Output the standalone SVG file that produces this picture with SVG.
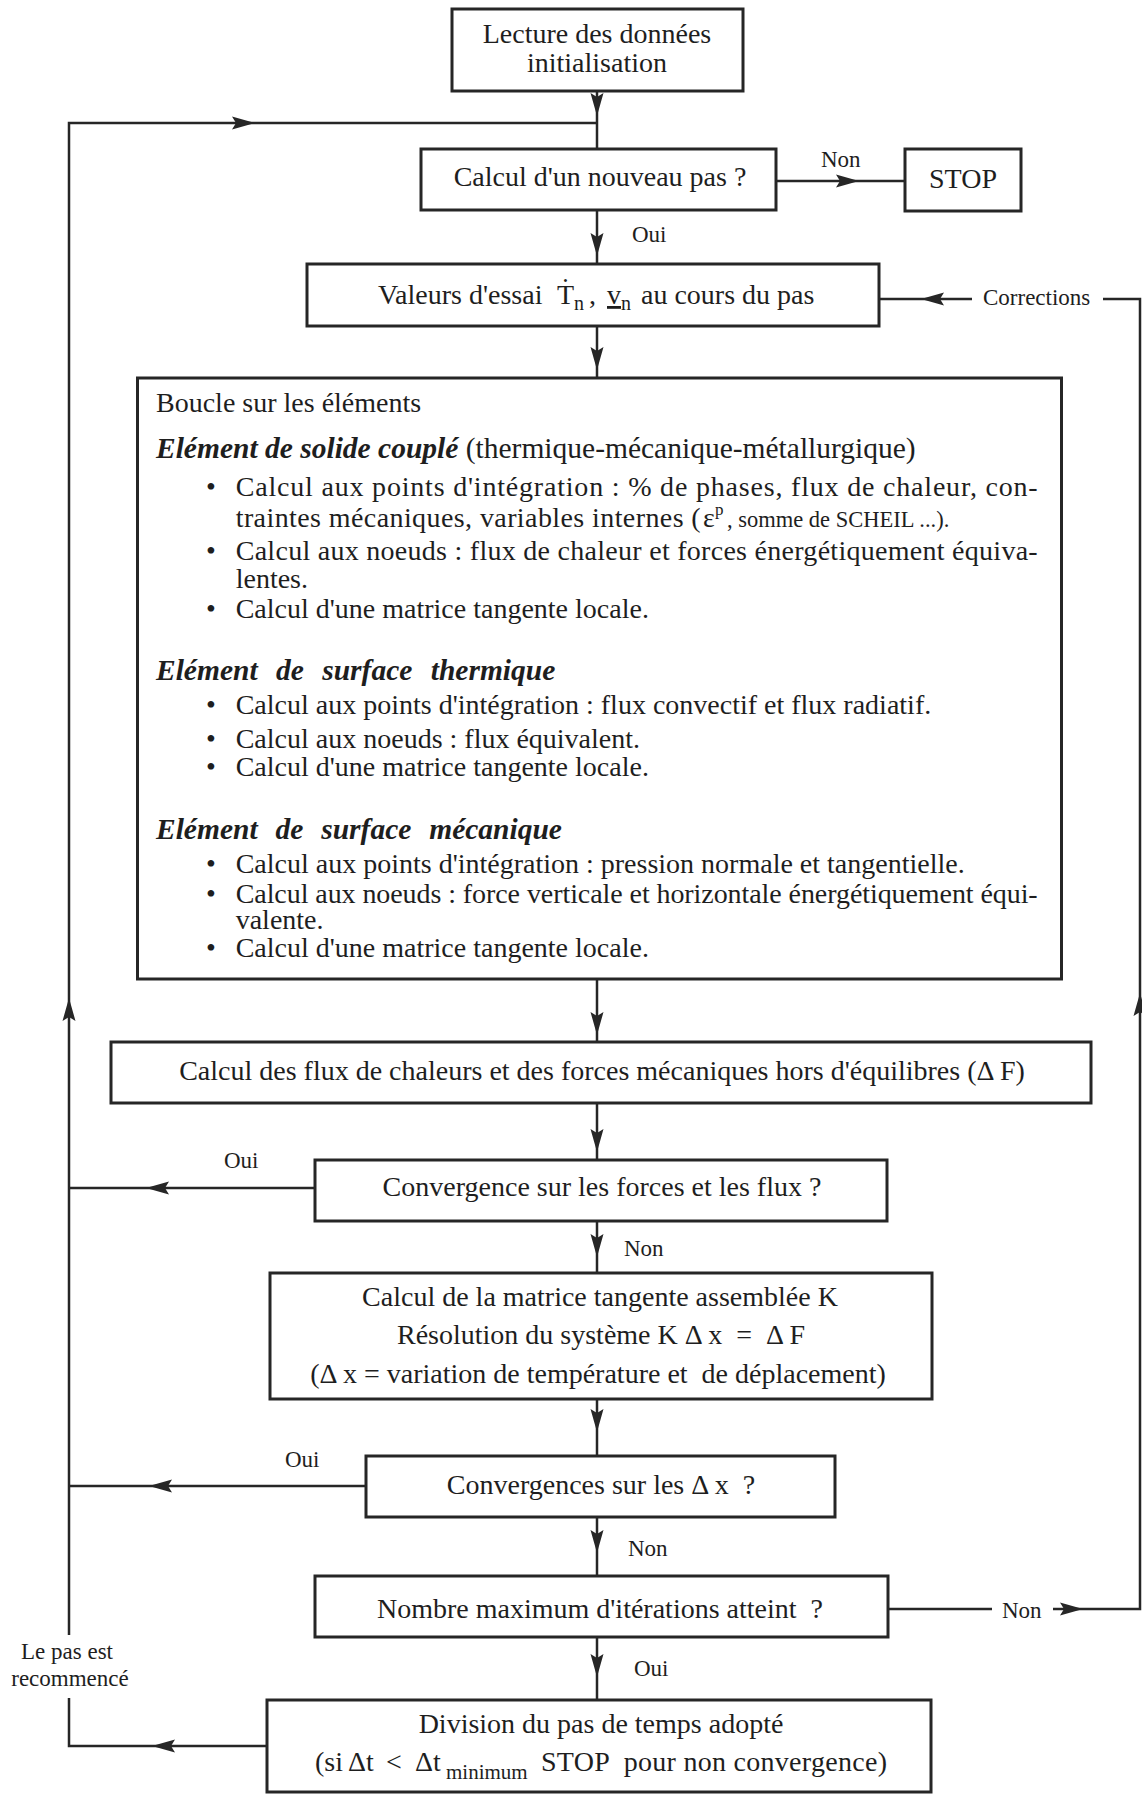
<svg xmlns="http://www.w3.org/2000/svg" width="1142" height="1794" viewBox="0 0 1142 1794">
<style>
text { font-family: "Liberation Serif", "Times New Roman", "DejaVu Serif", serif; fill: #1e1e1e; }
.t { font-size: 28px; }
.c { text-anchor: middle; }
.lbl { font-size: 23px; }
.sub { font-size: 20px; }
.h { font-size: 29.5px; font-style: italic; font-weight: bold; }
.box { fill: #ffffff; stroke: #262626; stroke-width: 3; }
.ln { fill: none; stroke: #262626; stroke-width: 2.5; }
</style>
<defs>
<path id="ah" d="M0,0 L-23,-6.5 L-19,0 L-23,6.5 Z" fill="#262626"/>
</defs>
<rect x="0" y="0" width="1142" height="1794" fill="#ffffff"/>

<g id="connectors">
<path class="ln" d="M597,91 V149"/>
<path class="ln" d="M597,123 H69 V1635"/>
<path class="ln" d="M69,1698 V1746 H267"/>
<path class="ln" d="M776,181 H905"/>
<path class="ln" d="M597,210 V264"/>
<path class="ln" d="M597,326 V378"/>
<path class="ln" d="M879,299 H972"/>
<path class="ln" d="M1103,299 H1140 V1609 H1053"/>
<path class="ln" d="M992,1609 H887"/>
<path class="ln" d="M597,979 V1042"/>
<path class="ln" d="M597,1103 V1160"/>
<path class="ln" d="M315,1188 H69"/>
<path class="ln" d="M597,1221 V1273"/>
<path class="ln" d="M597,1399 V1456"/>
<path class="ln" d="M366,1486 H69"/>
<path class="ln" d="M597,1517 V1576"/>
<path class="ln" d="M597,1637 V1700"/>
<use href="#ah" transform="translate(597,116) rotate(90)"/>
<use href="#ah" transform="translate(255,123)"/>
<use href="#ah" transform="translate(859,181)"/>
<use href="#ah" transform="translate(597,256) rotate(90)"/>
<use href="#ah" transform="translate(921,299) rotate(180)"/>
<use href="#ah" transform="translate(597,370) rotate(90)"/>
<use href="#ah" transform="translate(69,998) rotate(-90)"/>
<use href="#ah" transform="translate(1140,993) rotate(-90)"/>
<use href="#ah" transform="translate(597,1035) rotate(90)"/>
<use href="#ah" transform="translate(597,1152) rotate(90)"/>
<use href="#ah" transform="translate(146,1188) rotate(180)"/>
<use href="#ah" transform="translate(597,1257) rotate(90)"/>
<use href="#ah" transform="translate(597,1432) rotate(90)"/>
<use href="#ah" transform="translate(149,1486) rotate(180)"/>
<use href="#ah" transform="translate(597,1553) rotate(90)"/>
<use href="#ah" transform="translate(1083,1609)"/>
<use href="#ah" transform="translate(597,1677) rotate(90)"/>
<use href="#ah" transform="translate(152,1746) rotate(180)"/>
<text class="lbl" x="821" y="167">Non</text>
<text class="lbl" x="632" y="242">Oui</text>
<text class="lbl" x="983" y="305">Corrections</text>
<text class="lbl" x="224" y="1168">Oui</text>
<text class="lbl" x="624" y="1256">Non</text>
<text class="lbl" x="285" y="1467">Oui</text>
<text class="lbl" x="628" y="1556">Non</text>
<text class="lbl" x="1002" y="1618">Non</text>
<text class="lbl" x="634" y="1676">Oui</text>
<text class="lbl c" x="67" y="1659">Le pas est</text>
<text class="lbl c" x="70" y="1686">recommencé</text>
</g>

<g id="n-lecture">
<rect class="box" x="452" y="9" width="291" height="82"/>
<text class="t c" x="597" y="43">Lecture des données</text>
<text class="t c" x="597" y="72">initialisation</text>
</g>

<g id="n-nouveau-pas">
<rect class="box" x="421" y="149" width="355" height="61"/>
<text class="t c" x="600" y="186">Calcul d'un nouveau pas ?</text>
</g>

<g id="n-stop">
<rect class="box" x="905" y="149" width="116" height="62"/>
<text class="t c" x="963" y="188">STOP</text>
</g>

<g id="n-valeurs">
<rect class="box" x="307" y="264" width="572" height="62"/>
<text class="t" x="378" y="304">Valeurs d'essai</text>
<text class="t" x="557" y="304">T<tspan dx="-13.25" dy="-7">˙</tspan></text>
<text class="sub" x="574" y="310">n</text>
<text class="t" x="589" y="304">,</text>
<text class="t" x="607" y="304" text-decoration="underline">v</text>
<text class="sub" x="621" y="310">n</text>
<text class="t" x="641" y="304">au cours du pas</text>
</g>

<g id="n-boucle">
<rect class="box" x="137.5" y="378" width="924" height="601"/>
<text class="t" x="156" y="412">Boucle sur les éléments</text>
<text class="h" x="156" y="458">Elément de solide couplé<tspan font-style="normal" font-weight="normal"> (thermique-mécanique-métallurgique)</tspan></text>
<text class="t c" x="211" y="496">•</text>
<text class="t" x="235.7" y="496" textLength="802" lengthAdjust="spacing">Calcul aux points d'intégration : % de phases, flux de chaleur, con-</text>
<text class="t" x="235.7" y="527" textLength="465" lengthAdjust="spacing">traintes mécaniques, variables internes (</text>
<text class="t" x="703" y="527" font-size="26">ε</text>
<text x="715" y="515" font-size="17">p</text>
<text x="727" y="527" font-size="22.5">, somme de SCHEIL ...).</text>
<text class="t c" x="211" y="560">•</text>
<text class="t" x="235.7" y="560" textLength="802" lengthAdjust="spacing">Calcul aux noeuds : flux de chaleur et forces énergétiquement équiva-</text>
<text class="t" x="235.7" y="588">lentes.</text>
<text class="t c" x="211" y="618">•</text>
<text class="t" x="235.7" y="618">Calcul d'une matrice tangente locale.</text>

<text class="h" x="156" y="680" word-spacing="11">Elément de surface thermique</text>
<text class="t c" x="211" y="714">•</text>
<text class="t" x="235.7" y="714">Calcul aux points d'intégration : flux convectif et flux radiatif.</text>
<text class="t c" x="211" y="748">•</text>
<text class="t" x="235.7" y="748">Calcul aux noeuds : flux équivalent.</text>
<text class="t c" x="211" y="776">•</text>
<text class="t" x="235.7" y="776">Calcul d'une matrice tangente locale.</text>

<text class="h" x="156" y="839" word-spacing="10.5">Elément de surface mécanique</text>
<text class="t c" x="211" y="873">•</text>
<text class="t" x="235.7" y="873">Calcul aux points d'intégration : pression normale et tangentielle.</text>
<text class="t c" x="211" y="903">•</text>
<text class="t" x="235.7" y="903" textLength="802" lengthAdjust="spacing">Calcul aux noeuds : force verticale et horizontale énergétiquement équi-</text>
<text class="t" x="235.7" y="929">valente.</text>
<text class="t c" x="211" y="957">•</text>
<text class="t" x="235.7" y="957">Calcul d'une matrice tangente locale.</text>
</g>

<g id="n-desequilibre">
<rect class="box" x="111" y="1042" width="980" height="61"/>
<text class="t c" x="602" y="1080">Calcul des flux de chaleurs et des forces mécaniques hors d'équilibres (Δ F)</text>
</g>

<g id="n-conv-forces">
<rect class="box" x="315" y="1160" width="572" height="61"/>
<text class="t c" x="602" y="1196">Convergence sur les forces et les flux ?</text>
</g>

<g id="n-matrice">
<rect class="box" x="270" y="1273" width="662" height="126"/>
<text class="t c" x="600" y="1306">Calcul de la matrice tangente assemblée K</text>
<text class="t c" x="601" y="1344" xml:space="preserve">Résolution du système K Δ x  =  Δ F</text>
<text class="t c" x="598" y="1383" xml:space="preserve">(Δ x = variation de température et  de déplacement)</text>
</g>

<g id="n-conv-dx">
<rect class="box" x="366" y="1456" width="469" height="61"/>
<text class="t c" x="601" y="1494" xml:space="preserve">Convergences sur les Δ x  ?</text>
</g>

<g id="n-max-iter">
<rect class="box" x="315" y="1576" width="573" height="61"/>
<text class="t c" x="600" y="1618" xml:space="preserve">Nombre maximum d'itérations atteint  ?</text>
</g>

<g id="n-division">
<rect class="box" x="267" y="1700" width="664" height="92"/>
<text class="t c" x="601" y="1733">Division du pas de temps adopté</text>
<text class="t" x="315" y="1771">(si</text>
<text class="t" x="348" y="1771">Δt</text>
<text class="t" x="386" y="1771">&lt;</text>
<text class="t" x="415" y="1771">Δt</text>
<text x="446" y="1779" font-size="21">minimum</text>
<text class="t" x="541" y="1771" xml:space="preserve" textLength="346" lengthAdjust="spacing">STOP  pour non convergence)</text>
</g>
</svg>
